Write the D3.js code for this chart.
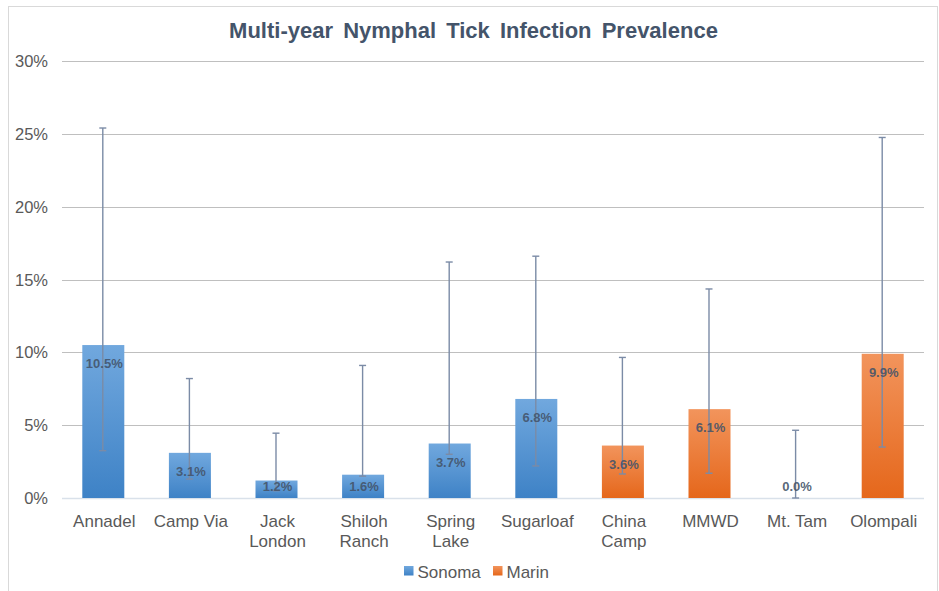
<!DOCTYPE html>
<html><head><meta charset="utf-8">
<script src="https://cdn.jsdelivr.net/npm/d3@7"></script>
<style>body{margin:0;background:#fff}svg{display:block;font-family:"Liberation Sans",Arial,sans-serif}</style>
</head><body><svg id="c" width="939" height="591"></svg>
<script>
const categories = ["Annadel","Camp Via","Jack London","Shiloh Ranch","Spring Lake","Sugarloaf","China Camp","MMWD","Mt. Tam","Olompali"];
const categoryLines = [["Annadel"],["Camp Via"],["Jack","London"],["Shiloh","Ranch"],["Spring","Lake"],["Sugarloaf"],["China","Camp"],["MMWD"],["Mt. Tam"],["Olompali"]];
const county = ["Sonoma","Sonoma","Sonoma","Sonoma","Sonoma","Sonoma","Marin","Marin","Marin","Marin"];
const prevalence = [10.5, 3.1, 1.2, 1.6, 3.74, 6.8, 3.6, 6.1, 0.0, 9.9];
const errUpper = [25.4, 8.2, 4.45, 9.1, 16.2, 16.6, 9.65, 14.35, 4.65, 24.75];
const errLower = [3.25, 1.3, 0.5, 1.5, 3.0, 2.2, 1.65, 1.7, 0.0, 3.5];
const yTicks = [0, 5, 10, 15, 20, 25, 30];
const seriesNames = ["Sonoma","Marin"];

const svg = d3.select("#c");
const W = 939, H = 591;
const m = {l:60, r:13, t:61, b:93};
const x = d3.scaleBand().domain(categories).range([m.l, W - m.r]).padding(0);
const y = d3.scaleLinear().domain([0, 30]).range([H - m.b, m.t]);
const barW = x.bandwidth() * 0.485;
const textCol = "#44546a";
const axisCol = "#595959";

// chart frame
svg.append("rect").attr("x", 8.5).attr("y", 6.5).attr("width", 929).attr("height", 600)
  .attr("fill", "#fff").attr("stroke", "#d9d9d9").attr("stroke-width", 1);

// gradients
const defs = svg.append("defs");
const grads = {Sonoma: ["#71a8de", "#3e82c6"], Marin: ["#f2945c", "#e5671b"]};
Object.entries(grads).forEach(([k, c]) => {
  const g = defs.append("linearGradient").attr("id", "g" + k).attr("x1", 0).attr("y1", 0).attr("x2", 0).attr("y2", 1);
  g.append("stop").attr("offset", "0%").attr("stop-color", c[0]);
  g.append("stop").attr("offset", "100%").attr("stop-color", c[1]);
});

// title
svg.append("text").attr("x", 473.5).attr("y", 38).attr("text-anchor", "middle")
  .attr("font-size", 22).attr("font-weight", "bold").attr("fill", textCol).attr("word-spacing", 4)
  .text("Multi-year Nymphal Tick Infection Prevalence");

// grid
const gx0 = 62, gx1 = 924;
svg.append("g").selectAll("line").data(yTicks).join("line")
  .attr("x1", gx0).attr("x2", gx1)
  .attr("y1", d => Math.round(y(d)) + 0.5).attr("y2", d => Math.round(y(d)) + 0.5)
  .attr("stroke", d => d === 0 ? "#d9e1ea" : "#bfbfbf").attr("stroke-width", d => d === 0 ? 1.5 : 1.2);

// y labels
svg.append("g").selectAll("text").data(yTicks).join("text")
  .attr("x", 48).attr("y", d => y(d) + 6).attr("text-anchor", "end")
  .attr("font-size", 16.5).attr("fill", axisCol).text(d => d + "%");

// bars
const cx = i => x(categories[i]) + x.bandwidth() / 2;
svg.append("g").selectAll("rect").data(prevalence).join("rect")
  .attr("x", (d, i) => cx(i) - barW / 2).attr("width", barW)
  .attr("y", d => y(d)).attr("height", d => y(0) - y(d))
  .attr("fill", (d, i) => "url(#g" + county[i] + ")");

// error bars
const eg = svg.append("g").attr("stroke", "#7b8ba6").attr("stroke-width", 1.4);
prevalence.forEach((d, i) => {
  const ex = cx(i) - 0.5;
  eg.append("line").attr("x1", ex).attr("x2", ex).attr("y1", y(errUpper[i])).attr("y2", y(errLower[i]));
  [errUpper[i], errLower[i]].forEach(v => {
    eg.append("line").attr("x1", ex - 3.5).attr("x2", ex + 3.5).attr("y1", y(v)).attr("y2", y(v));
  });
});

// data labels
svg.append("g").selectAll("text").data(prevalence).join("text")
  .attr("x", (d, i) => cx(i) + 1).attr("y", d => Math.min(y(d) + 18, y(0) - 12) + 5)
  .attr("text-anchor", "middle").attr("font-size", 13).attr("font-weight", "bold")
  .attr("fill", textCol).attr("fill-opacity", 0.9).text(d => d3.format(".1f")(d) + "%");

// category labels
const cg = svg.append("g");
categoryLines.forEach((lines, i) => {
  const t = cg.append("text").attr("x", cx(i) + 1).attr("y", 527).attr("text-anchor", "middle")
    .attr("font-size", 17).attr("fill", axisCol);
  lines.forEach((l, j) => t.append("tspan").attr("x", cx(i) + 1).attr("dy", j === 0 ? 0 : 20).text(l));
});

// legend
const lg = svg.append("g");
const legendX = [404, 493];
seriesNames.forEach((s, i) => {
  lg.append("rect").attr("x", legendX[i]).attr("y", 566).attr("width", 9.5).attr("height", 9.5)
    .attr("fill", "url(#g" + s + ")");
  lg.append("text").attr("x", legendX[i] + 13.5).attr("y", 578).attr("font-size", 17)
    .attr("fill", axisCol).text(s);
});
</script></body></html>
